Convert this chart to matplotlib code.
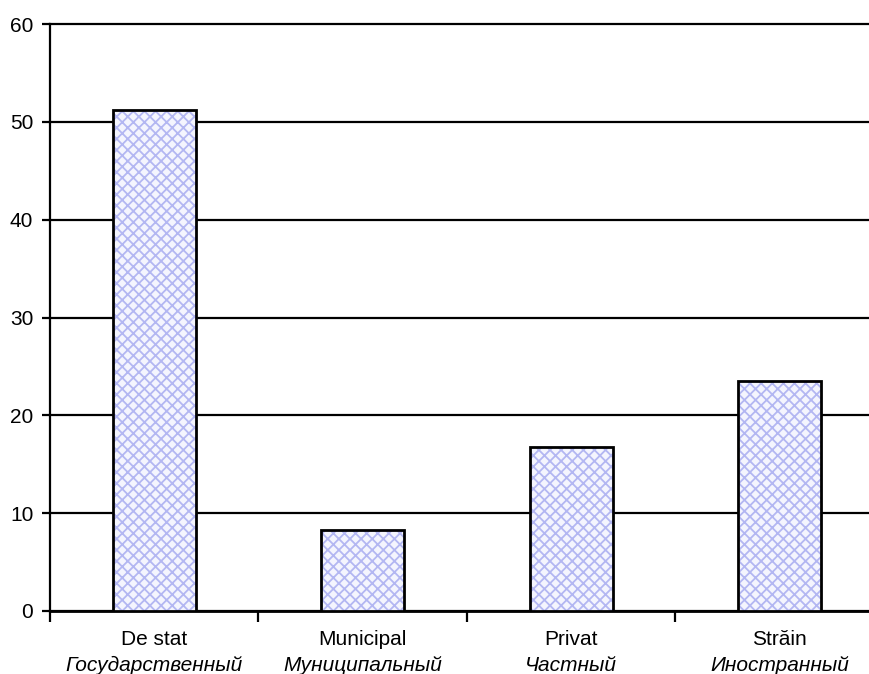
import matplotlib.pyplot as plt
import matplotlib as mpl

categories = ['De stat', 'Municipal', 'Privat', 'Străin']
categories_ru = ['Государственный', 'Муниципальный', 'Частный', 'Иностранный']
values = [51.2, 8.3, 16.8, 23.5]
yticks = [0, 10, 20, 30, 40, 50, 60]

plt.rcParams['font.family'] = ['Liberation Sans', 'DejaVu Sans']
mpl.rcParams['hatch.linewidth'] = 1.3

fig = plt.figure(figsize=(8.7, 6.74), dpi=100)
# axes runs past the right edge like the original
ax = fig.add_axes([50/870, 1 - 611/674, 834/870, 587/674])

x = list(range(len(categories)))
# hatched fill first, black outline on top
ax.bar(x, values, width=0.4, color='#f4f5fe', edgecolor='#b3b7f2',
       linewidth=0, hatch='xxx', zorder=3)
ax.bar(x, values, width=0.4, fill=False, edgecolor='black',
       linewidth=2, zorder=4)

ax.set_xlim(-0.5, len(categories) - 0.5)
ax.set_ylim(0, 60)
ax.set_yticks(yticks)
ax.set_yticklabels([str(t) for t in yticks], fontsize=15)
ax.yaxis.grid(True, color='black', linewidth=1.6, zorder=0)
ax.set_axisbelow(True)
for gl in ax.get_ygridlines():
    gl.set_clip_on(False)

for s in ['top', 'right']:
    ax.spines[s].set_visible(False)
ax.spines['left'].set_linewidth(1.6)
ax.spines['bottom'].set_linewidth(2)
ax.tick_params(axis='y', direction='out', length=6, width=1.6, pad=6)

ax.set_xticks([])
ax.set_xticks([i - 0.5 for i in range(len(categories) + 1)], minor=True)
ax.tick_params(axis='x', which='minor', direction='out', length=8, width=1.6)

for i in x:
    ax.text(i, -0.049, categories[i], transform=ax.get_xaxis_transform(),
            ha='center', va='center', fontsize=15)
    ax.text(i, -0.092, categories_ru[i], transform=ax.get_xaxis_transform(),
            ha='center', va='center', fontsize=15, style='italic')

fig.savefig('out.png', dpi=100)
